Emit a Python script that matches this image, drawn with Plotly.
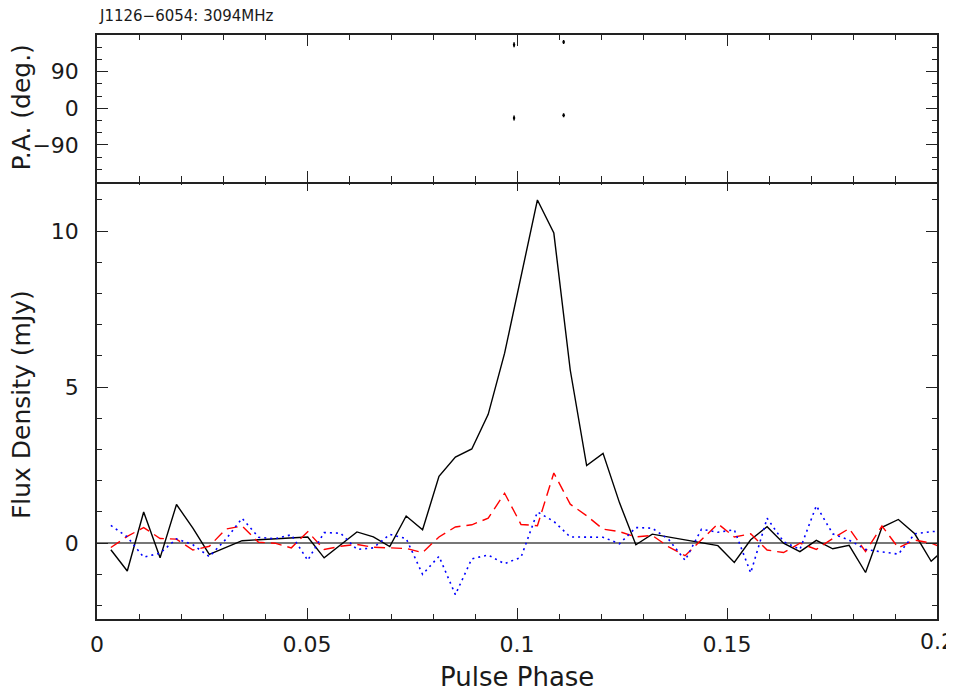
import numpy as np
import plotly.graph_objects as go

# pulse profile bins (1/256 of a turn each), first bin centre
n_bins = 52
phase = 0.0033 + np.arange(n_bins) / 256.0

# total intensity (mJy)
flux_i = [-0.21, -0.89, 1.0, -0.47, 1.24, 0.48, -0.36, -0.14, 0.08, 0.11,
          0.14, 0.18, 0.2, -0.47, -0.05, 0.36, 0.2, -0.11, 0.87, 0.43,
          2.14, 2.76, 3.02, 4.13, 6.09, 8.5, 11.0, 9.94, 5.55, 2.49,
          2.88, 1.3, -0.05, 0.29, 0.2, 0.12, 0.02, -0.08, -0.62, 0.11,
          0.53, 0.0, -0.27, 0.09, -0.18, -0.07, -0.94, 0.51, 0.76, 0.3,
          -0.58, -0.1]

# linear polarisation (mJy)
flux_l = [-0.14, 0.22, 0.5, 0.15, 0.13, -0.22, -0.1, 0.45, 0.55, 0.03,
          0.0, -0.15, 0.37, -0.2, -0.1, -0.04, -0.13, -0.16, -0.17, -0.3,
          0.2, 0.52, 0.59, 0.8, 1.6, 0.6, 0.56, 2.25, 1.25, 0.88,
          0.45, 0.37, 0.2, 0.25, -0.12, -0.4, 0.1, 0.62, 0.2, 0.3,
          -0.22, -0.3, 0.0, -0.2, 0.15, 0.47, -0.27, 0.55, -0.15, 0.1,
          0.0, -0.2]

# circular polarisation (mJy)
flux_v = [0.57, 0.2, -0.45, -0.32, 0.14, -0.05, -0.43, 0.12, 0.8, 0.19,
          0.14, 0.27, -0.55, 0.34, 0.32, -0.2, -0.15, 0.28, 0.15, -1.0,
          -0.42, -1.65, -0.5, -0.38, -0.66, -0.45, 1.0, 0.7, 0.2, 0.19,
          0.19, -0.02, 0.5, 0.48, 0.12, -0.55, 0.45, 0.35, 0.43, -0.95,
          0.8, 0.05, -0.2, 1.2, 0.3, 0.1, -0.2, -0.28, -0.35, 0.3,
          0.37, 0.4]

# position angle points (deg) with errors
pa_phase = [0.0993, 0.0993, 0.1111, 0.1111]
pa_deg = [156, -24, 163, -17]
pa_err = [6, 6, 5, 5]

x_ticks = [0, 0.05, 0.1, 0.15, 0.2]
x_labels = ['0', '0.05', '0.1', '0.15', '0.2']

title_text = "J1126\u22126054: 3094MHz"
font = "DejaVu Sans"
frame = "#222222"
txt = "#1a1a1a"

fig = go.Figure()

fig.add_trace(go.Scatter(x=phase, y=flux_i, mode='lines', xaxis='x', yaxis='y',
                         line=dict(color='black', width=1.4)))
fig.add_trace(go.Scatter(x=phase, y=flux_l, mode='lines', xaxis='x', yaxis='y',
                         line=dict(color='#ff0000', width=1.4, dash='11px,6px')))
fig.add_trace(go.Scatter(x=phase, y=flux_v, mode='lines', xaxis='x', yaxis='y',
                         line=dict(color='#0000ff', width=1.6, dash='2px,4px')))

fig.add_trace(go.Scatter(x=pa_phase, y=pa_deg, mode='markers', xaxis='x2', yaxis='y2',
                         marker=dict(color='black', size=2.5),
                         error_y=dict(type='data', array=pa_err, color='black',
                                      thickness=1.5, width=0)))

axis_common = dict(showline=True, linecolor=frame, linewidth=1.5, mirror='ticks',
                   ticks='inside', tickcolor=frame, tickwidth=1.2, showgrid=False,
                   tickfont=dict(family=font, size=22, color=txt))

# the page body keeps its 8px margin, so the figure is 8px smaller than the window
fig.update_layout(
    width=946, height=685,
    margin=dict(l=89, r=17, t=27, b=74),
    paper_bgcolor='white', plot_bgcolor='white',
    showlegend=False,
    xaxis=dict(domain=[0, 1], anchor='y', range=[0, 0.2],
               tickvals=x_ticks[:-1], ticktext=x_labels[:-1],
               ticklen=11, ticklabelstandoff=5,
               minor=dict(ticks='inside', ticklen=5.5, dtick=0.01, tick0=0,
                          tickcolor=frame, tickwidth=1.2),
               zeroline=False, **axis_common),
    xaxis2=dict(domain=[0, 1], anchor='y2', matches='x', range=[0, 0.2],
                tickvals=x_ticks, ticklen=11, showticklabels=False,
                minor=dict(ticks='inside', ticklen=5.5, dtick=0.01, tick0=0,
                           tickcolor=frame, tickwidth=1.2),
                zeroline=False, **axis_common),
    yaxis=dict(domain=[0, 0.7517], anchor='x', range=[-2.43, 11.64],
               tickvals=[0, 5, 10], ticktext=['0', '5', '10'], ticklen=11,
               ticklabelstandoff=12,
               minor=dict(ticks='inside', ticklen=5.5, dtick=1, tick0=0,
                          tickcolor=frame, tickwidth=1.2),
               zeroline=True, zerolinecolor='#777777', zerolinewidth=1.5,
               **axis_common),
    yaxis2=dict(domain=[0.7491, 1], anchor='x2', range=[-180, 180],
                tickvals=[-90, 0, 90], ticktext=['\u221290', '0', '90'], ticklen=11,
                ticklabelstandoff=12,
                minor=dict(ticks='inside', ticklen=5.5, tickmode='array',
                           tickvals=[-150, -120, -60, -30, 30, 60, 120, 150],
                           tickcolor=frame, tickwidth=1.2),
                zeroline=False, **axis_common),
    annotations=[
        # last phase label sits on the right edge of the page and is clipped there
        dict(text=x_labels[-1], xref='x', yref='paper', x=x_ticks[-1], y=-0.038,
             xanchor='center', yanchor='middle', showarrow=False,
             font=dict(family=font, size=22, color=txt)),
        dict(text=title_text, xref='paper', yref='paper', x=0, y=1.0325,
             xanchor='left', yanchor='middle', showarrow=False,
             font=dict(family=font, size=15, color=txt)),
        dict(text='Pulse Phase', xref='paper', yref='paper', x=0.5, y=-0.0985,
             xanchor='center', yanchor='middle', showarrow=False,
             font=dict(family=font, size=26, color=txt)),
        dict(text='Flux Density (mJy)', xref='paper', yref='paper', x=-0.0905, y=0.368,
             xanchor='center', yanchor='middle', textangle=-90, showarrow=False,
             font=dict(family=font, size=25, color=txt)),
        dict(text='P.A. (deg.)', xref='paper', yref='paper', x=-0.0905, y=0.876,
             xanchor='center', yanchor='middle', textangle=-90, showarrow=False,
             font=dict(family=font, size=25, color=txt)),
    ],
)

fig.write_html("out.html", config={'displayModeBar': False})
